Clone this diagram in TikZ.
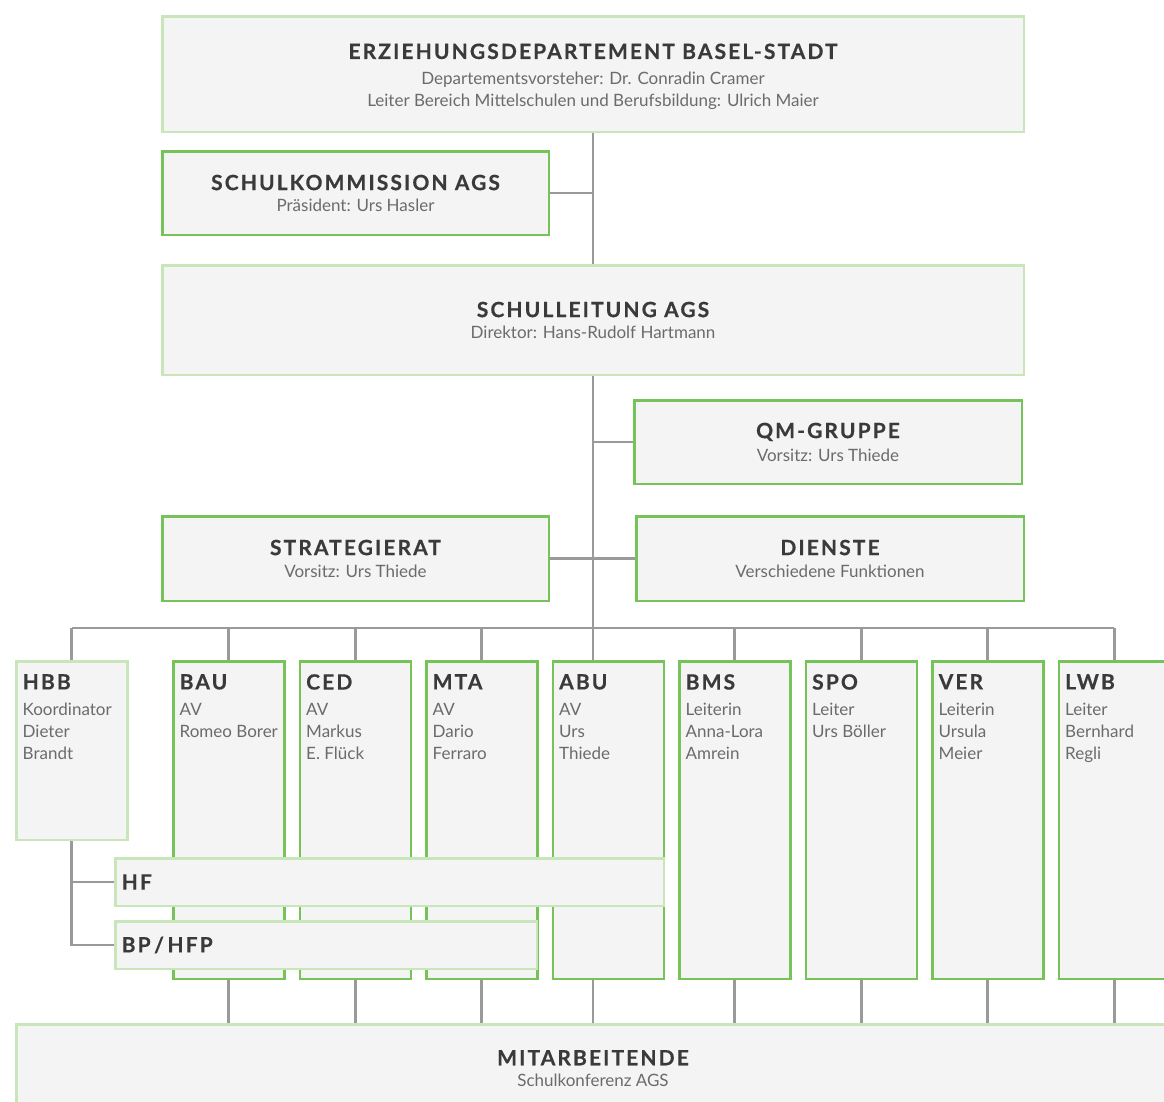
\documentclass[tikz,border=0pt]{standalone}
\usepackage{fontspec}
\setmainfont{Lato}
\newfontfamily\headfont[LetterSpace=10, BoldFeatures={FakeBold=0.5}]{Lato}
\usetikzlibrary{positioning,backgrounds}

\definecolor{boxfill}{HTML}{F4F4F4}
\definecolor{lightgreen}{HTML}{C8E6B9}
\definecolor{midgreen}{HTML}{76C35A}
\definecolor{linegray}{HTML}{9A9A9C}
\definecolor{headcol}{HTML}{3A3A3A}
\definecolor{subcol}{HTML}{6B6B6B}

\newcommand{\boxhead}[1]{{\headfont\bfseries\fontsize{21}{22}\selectfont\color{headcol}#1}}

\tikzset{
    orgbox/.style={%
        draw=#1, fill=boxfill,
        line width=2.5pt,
        inner sep=0pt,
        align=center,
        text=subcol,
        font=\fontsize{17}{22}\selectfont
        },
    orgbox/.default=midgreen,
    colbox/.style={%
        orgbox=#1,
        minimum width=111pt,
        minimum height=317.5pt
        },
    colbox/.default=midgreen,
    coltext/.style={%
        anchor=north west,
        inner sep=0pt,
        align=left,
        text=subcol,
        font=\fontsize{17}{22}\selectfont
        },
    link/.style={draw=linegray, line width=2.6pt}
}

\begin{document}
\begin{tikzpicture}[x=1pt, y=-1pt]

\useasboundingbox (0,0) rectangle (1164,1101);
\clip (0,0) rectangle (1164,1101);

\node[orgbox=lightgreen, anchor=north west, minimum width=861.5pt, minimum height=115.5pt] (ed) at (161,15) {\rule{0pt}{21pt}\boxhead{ERZIEHUNGSDEPARTEMENT BASEL-STADT}\\[4pt]Departementsvorsteher: Dr. Conradin Cramer\\Leiter Bereich Mittelschulen und Berufsbildung: Ulrich Maier};

\node[orgbox, anchor=north west, minimum width=386.5pt, minimum height=83.5pt] (sk) at (161,150) {\boxhead{SCHULKOMMISSION AGS}\\[-1pt]Präsident: Urs Hasler};

\node[orgbox=lightgreen, anchor=north west, minimum width=861.5pt, minimum height=109.5pt] (sl) at (161,264) {\boxhead{SCHULLEITUNG AGS}\\[-1pt]Direktor: Hans-Rudolf Hartmann};

\node[orgbox, anchor=north west, minimum width=387.5pt, minimum height=83.5pt] (qm) at (633,399) {\boxhead{QM-GRUPPE}\\[1pt]Vorsitz: Urs Thiede};

\node[orgbox, anchor=north west, minimum width=386.5pt, minimum height=84.5pt] (sr) at (161,515) {\boxhead{STRATEGIERAT}\\[0pt]Vorsitz: Urs Thiede};

\node[orgbox, anchor=north west, minimum width=387.5pt, minimum height=84.5pt] (di) at (635,515) {\boxhead{DIENSTE}\\[0pt]Verschiedene Funktionen};

\coordinate (bar) at (593,628);

\node[colbox=lightgreen, anchor=north west, minimum height=178.5pt] (hbb) at (15,660) {};
\node[coltext] (hbb-t) at ([xshift=7.5pt,yshift=-14pt]hbb.north west) {\boxhead{HBB}\\[4pt]Koordinator\\Dieter\\Brandt};

\node[colbox, anchor=north west] (bau) at (172,660) {};
\node[coltext] (bau-t) at ([xshift=7.5pt,yshift=-14pt]bau.north west) {\boxhead{BAU}\\[4pt]AV\\Romeo Borer};

\node[colbox, right=13pt of bau] (ced) {};
\node[coltext] (ced-t) at ([xshift=7.5pt,yshift=-14pt]ced.north west) {\boxhead{CED}\\[4pt]AV\\Markus\\E. Flück};

\node[colbox, right=13pt of ced] (mta) {};
\node[coltext] (mta-t) at ([xshift=7.5pt,yshift=-14pt]mta.north west) {\boxhead{MTA}\\[4pt]AV\\Dario\\Ferraro};

\node[colbox, right=13pt of mta] (abu) {};
\node[coltext] (abu-t) at ([xshift=7.5pt,yshift=-14pt]abu.north west) {\boxhead{ABU}\\[4pt]AV\\Urs\\Thiede};

\node[colbox, right=13pt of abu] (bms) {};
\node[coltext] (bms-t) at ([xshift=7.5pt,yshift=-14pt]bms.north west) {\boxhead{BMS}\\[4pt]Leiterin\\Anna-Lora\\Amrein};

\node[colbox, right=13pt of bms] (spo) {};
\node[coltext] (spo-t) at ([xshift=7.5pt,yshift=-14pt]spo.north west) {\boxhead{SPO}\\[4pt]Leiter\\Urs Böller};

\node[colbox, right=13pt of spo] (ver) {};
\node[coltext] (ver-t) at ([xshift=7.5pt,yshift=-14pt]ver.north west) {\boxhead{VER}\\[4pt]Leiterin\\Ursula\\Meier};

\node[colbox, right=13pt of ver] (lwb) {};
\node[coltext] (lwb-t) at ([xshift=7.5pt,yshift=-14pt]lwb.north west) {\boxhead{LWB}\\[4pt]Leiter\\Bernhard\\Regli};

\node[orgbox=lightgreen, anchor=north west, minimum width=548.5pt, minimum height=47.5pt] (hf) at (114,857) {};
\node[anchor=west, inner sep=0pt] (hf-t) at ([xshift=7.5pt]hf.west) {\boxhead{HF}};

\node[orgbox=lightgreen, minimum width=421.5pt, minimum height=47.5pt, below=13pt of hf.south west, anchor=north west] (bp) {};
\node[anchor=west, inner sep=0pt] (bp-t) at ([xshift=7.5pt]bp.west) {\boxhead{BP\,/\,HFP}};

\node[orgbox=lightgreen, anchor=north west, minimum width=1153.5pt, minimum height=88pt] (mit) at (15,1023) {\boxhead{MITARBEITENDE}\\[-1pt]Schulkonferenz AGS};

\begin{scope}[on background layer]
\draw[link] (ed.south) -- (sl.north);
\draw[link] (sk.east) -- (sk.east -| ed.south);
\draw[link] (sl.south) -- (bar);
\draw[link] (qm.west) -- (qm.west -| sl.south);
\draw[link] (sr.east) -- (di.west);

\draw[link] (hbb.north |- bar) -- (lwb.north |- bar);
\draw[link] (hbb.north |- bar) -- (hbb.north);
\draw[link] (bau.north |- bar) -- (bau.north);
\draw[link] (ced.north |- bar) -- (ced.north);
\draw[link] (mta.north |- bar) -- (mta.north);
\draw[link] (bar) -- (bar |- abu.north);
\draw[link] (bms.north |- bar) -- (bms.north);
\draw[link] (spo.north |- bar) -- (spo.north);
\draw[link] (ver.north |- bar) -- (ver.north);
\draw[link] (lwb.north |- bar) -- (lwb.north);

\draw[link] (hbb.south) |- (bp.west);
\draw[link] (hbb.south |- hf.west) -- (hf.west);

\draw[link] (bau.south) -- (bau.south |- mit.north);
\draw[link] (ced.south) -- (ced.south |- mit.north);
\draw[link] (mta.south) -- (mta.south |- mit.north);
\draw[link] (bar |- abu.south) -- (bar |- mit.north);
\draw[link] (bms.south) -- (bms.south |- mit.north);
\draw[link] (spo.south) -- (spo.south |- mit.north);
\draw[link] (ver.south) -- (ver.south |- mit.north);
\draw[link] (lwb.south) -- (lwb.south |- mit.north);
\end{scope}

\end{tikzpicture}
\end{document}
